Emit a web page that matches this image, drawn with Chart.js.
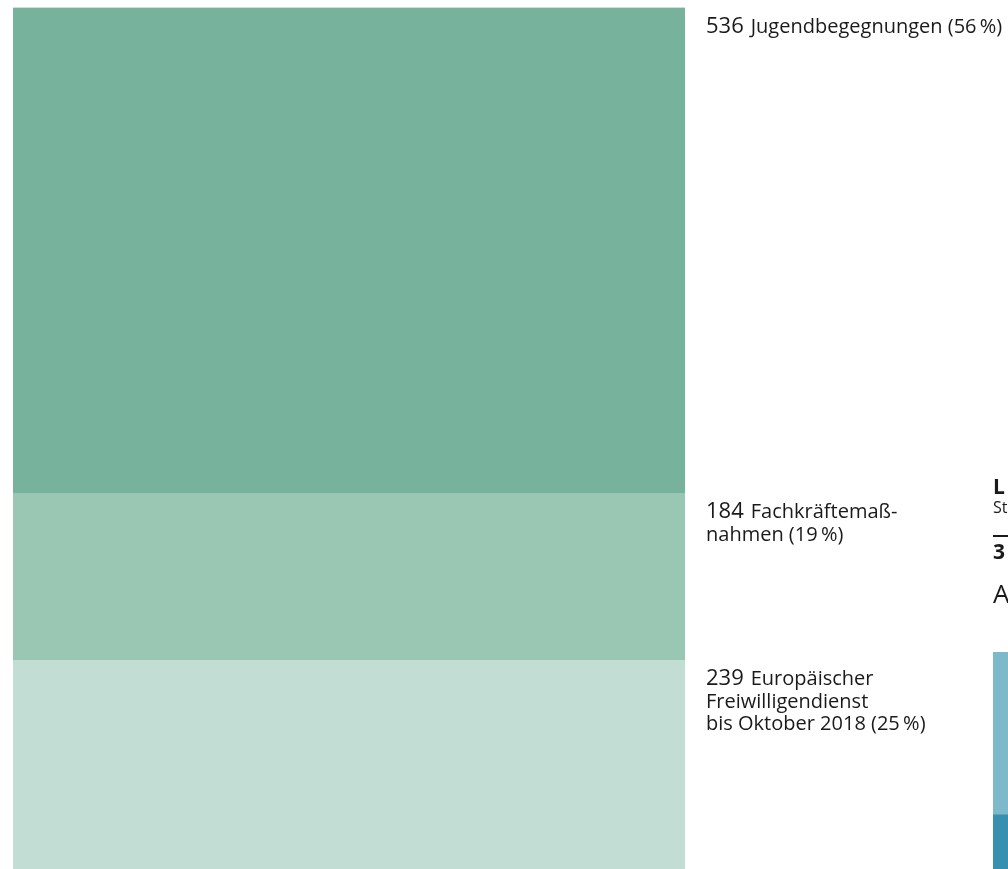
<!DOCTYPE html>
<html>
<head>
<meta charset="utf-8">
<script src="https://cdn.jsdelivr.net/npm/chart.js@4"></script>
<style>
  html, body { margin:0; padding:0; background:#fff; width:1008px; height:869px; overflow:hidden; }
  #wrap { position:relative; width:1008px; height:869px; overflow:hidden; }
  #main { position:absolute; left:0; top:0; }
  #side { position:absolute; left:993px; top:652px; }
  .t { position:absolute; left:993px; color:#1a1a1a; font-family:"Open Sans", sans-serif; white-space:nowrap; line-height:1; }
  #rule { position:absolute; left:993px; top:535px; width:40px; height:2px; background:#1a1a1a; }
</style>
</head>
<body>
<div id="wrap">
  <canvas id="main" width="1008" height="877"></canvas>
  <canvas id="side" width="60" height="217"></canvas>
  <div class="t" style="top:476px;font-size:21px;font-weight:700;">L</div>
  <div class="t" style="top:499px;font-size:16px;">St</div>
  <div id="rule"></div>
  <div class="t" style="top:541px;font-size:21px;font-weight:700;">3</div>
  <div class="t" style="top:580px;font-size:26px;">A</div>
</div>
<script>
// Data (bottom to top in the stack)
const categories = ["Europäischer Freiwilligendienst", "Fachkräftemaßnahmen", "Jugendbegegnungen"];
const values = [239, 184, 536];
const numberLabels = ["239", "184", "536"];
const textLines = [
  ["Europäischer", "Freiwilligendienst", "bis Oktober 2018 (25\u2009%)"],
  ["Fachkräftemaß-", "nahmen (19\u2009%)"],
  ["Jugendbegegnungen (56\u2009%)"]
];
const colors = ["#C1DDD4", "#9AC6B4", "#77B39C"];

// Neighbouring (cut-off) chart on the right
const sideValues = [25, 75];
const sideColors = ["#3790B0", "#7DB8CB"];

const total = values.reduce((a, b) => a + b, 0);

const labelPlugin = {
  id: 'segLabels',
  afterDatasetsDraw(chart) {
    const ctx = chart.ctx;
    const x0 = chart.chartArea.right + 21;
    ctx.save();
    ctx.fillStyle = '#1a1a1a';
    ctx.textBaseline = 'alphabetic';
    ctx.textAlign = 'left';
    chart.data.datasets.forEach((ds, i) => {
      const el = chart.getDatasetMeta(i).data[0];
      const top = Math.min(el.y, el.base);
      const base = Math.round(top + 25);
      ctx.font = '22px "Open Sans", sans-serif';
      const num = numberLabels[i];
      ctx.fillText(num, x0, base);
      const nw = ctx.measureText(num).width;
      ctx.font = '20px "Open Sans", sans-serif';
      textLines[i].forEach((line, j) => {
        const x = j === 0 ? x0 + nw + 7 : x0;
        ctx.fillText(line, x, base + j * 22.5);
      });
    });
    ctx.restore();
  }
};

new Chart(document.getElementById('main'), {
  type: 'bar',
  data: {
    labels: ['Maßnahmen'],
    datasets: values.map((v, i) => ({
      label: categories[i],
      data: [v],
      backgroundColor: colors[i],
      borderWidth: 0,
      barPercentage: 1,
      categoryPercentage: 1
    }))
  },
  options: {
    responsive: false,
    animation: false,
    layout: { padding: { left: 13, right: 323, top: 7.5, bottom: 0 } },
    plugins: { legend: { display: false }, tooltip: { enabled: false } },
    scales: {
      x: { stacked: true, display: false },
      y: { stacked: true, display: false, min: 0, max: total }
    }
  },
  plugins: [labelPlugin]
});

new Chart(document.getElementById('side'), {
  type: 'bar',
  data: {
    labels: ['x'],
    datasets: sideValues.map((v, i) => ({
      data: [v],
      backgroundColor: sideColors[i],
      borderWidth: 0,
      barPercentage: 1,
      categoryPercentage: 1
    }))
  },
  options: {
    responsive: false,
    animation: false,
    layout: { padding: 0 },
    plugins: { legend: { display: false }, tooltip: { enabled: false } },
    scales: {
      x: { stacked: true, display: false },
      y: { stacked: true, display: false, min: 0, max: sideValues[0] + sideValues[1] }
    }
  }
});
</script>
</body>
</html>
